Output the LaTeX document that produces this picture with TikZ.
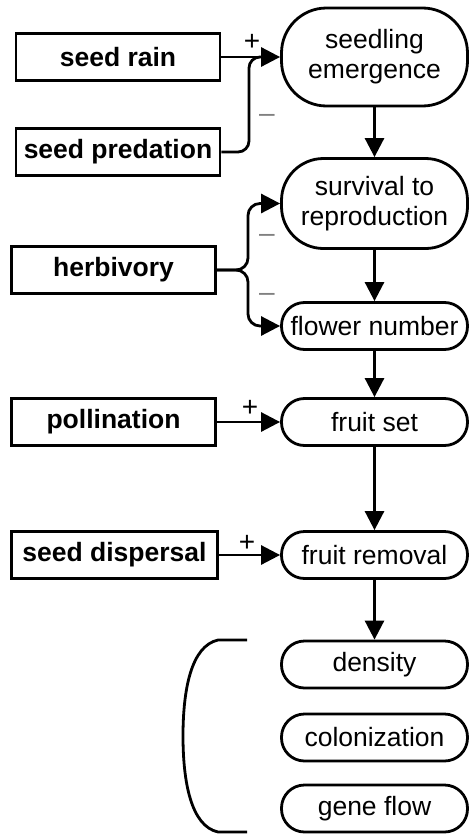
\documentclass[tikz,border=0pt]{standalone}
\usepackage{fontspec}
\setmainfont{Liberation Sans}
\usetikzlibrary{arrows.meta}

\begin{document}
\begin{tikzpicture}[x=1pt,y=-1pt]
        \tikzset{factor/.style = {shape=rectangle,draw,line width=2.8pt,minimum width=204pt,minimum height=47pt,inner sep=0pt,font=\fontsize{26.5}{30}\selectfont\bfseries}}
        \tikzset{stage/.style = {shape=rectangle,draw,line width=2.8pt,rounded corners=23pt,minimum width=186pt,minimum height=47pt,inner sep=0pt,align=center,font=\fontsize{26.5}{30}\selectfont}}
        \tikzset{edge/.style = {-{Triangle[length=19pt,width=19pt]},line width=2.8pt}}
        \tikzset{sign/.style = {inner sep=0pt,font=\fontsize{28}{30}\selectfont}}
        \useasboundingbox (0,0) rectangle (470,835);

        \node[factor] (rain) at (118, 57) {seed rain};
        \node[factor] (pred) at (118, 152) {seed predation};
        \node[factor] (herb) at (113.5, 270) {herbivory};
        \node[factor] (poll) at (113.5, 422) {pollination};
        \node[factor,minimum width=206pt] (disp) at (114.5, 555) {seed dispersal};

        \node[stage,rounded corners=45pt,minimum height=98pt] (emerg) at (374.5, 57) {seedling\\emergence};
        \node[stage,rounded corners=42pt,minimum height=90pt] (surv) at (374.5, 203.5) {survival to\\reproduction};
        \node[stage] (flower) at (374.5, 326) {flower number};
        \node[stage] (fruit) at (374.5, 422) {fruit set};
        \node[stage] (removal) at (374.5, 555) {fruit removal};
        \node[stage] (dens) at (374.5, 664.5) {density};
        \node[stage] (colon) at (374.5, 737.5) {colonization};
        \node[stage] (gene) at (374.5, 808.5) {gene flow};

        \coordinate (join) at (249, 57);
        \coordinate (brace) at (248, 0);

        \draw[edge] (rain) to (emerg);
        \draw[line width=2.8pt,rounded corners=11pt] (pred.east) -| (join) -- ++(16,0);
        \draw[edge,rounded corners=12pt] (herb.east) -| (brace |- surv.west) -- (surv.west);
        \draw[edge,rounded corners=12pt] (herb.east) -| (brace |- flower.west) -- (flower.west);
        \draw[edge] (poll) to (fruit);
        \draw[edge] (disp) to (removal);

        \draw[edge] (emerg) to (surv);
        \draw[edge] (surv) to (flower);
        \draw[edge] (flower) to (fruit);
        \draw[edge] (fruit) to (removal);
        \draw[edge] (removal) to (dens);

        \node[sign] (p1) at (252, 42) {+};
        \node[sign,gray] (m1) at (267, 118) {--};
        \node[sign,gray] (m2) at (267, 238) {--};
        \node[sign,gray] (m3) at (267, 297) {--};
        \node[sign] (p2) at (250, 408) {+};
        \node[sign] (p3) at (247, 543) {+};

        % bracket round the last three stages
        \draw[line width=2.8pt] (247, 640) -- (218, 640)
          .. controls (191, 646) and (183, 690) .. (183, 736)
          .. controls (183, 782) and (191, 826) .. (218, 832) -- (247, 832);
      \end{tikzpicture}
\end{document}
